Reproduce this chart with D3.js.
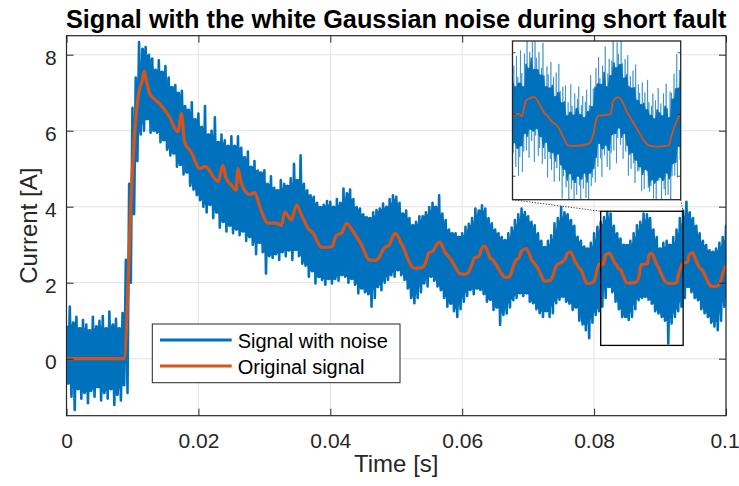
<!DOCTYPE html>
<html><head><meta charset="utf-8">
<script src="https://cdn.jsdelivr.net/npm/d3@7"></script>
<style>
body{margin:0;background:#fff}
svg{display:block}
text{font-family:"Liberation Sans",Arial,Helvetica,sans-serif}
</style>
</head><body>
<svg id="chart" width="739" height="486"></svg>
<script>
// ---------------- DATA ----------------
const titleText = "Signal with the white Gaussian noise during short fault";
const xLabelText = "Time [s]";
const yLabelText = "Current [A]";
const legendLabels = ["Signal with noise", "Original signal"];

const xTicks = [0, 0.02, 0.04, 0.06, 0.08, 0.1];
const xTickLabels = ["0", "0.02", "0.04", "0.06", "0.08", "0.1"];
const yTicks = [0, 2, 4, 6, 8];
const yTickLabels = ["0", "2", "4", "6", "8"];
const xDomain = [0, 0.1];
const yDomain = [-1.5, 8.5];

// noisy signal: upper / lower envelope sampled every 0.5 ms (t = 0 ... 0.1 s)
const noiseStep = 0.0005;
const noiseUpper = [
 0.85,1.37,0.95,1.1,0.8,1.02,0.9,0.75,1.1,0.85,1.0,1.12,0.8,1.24,0.9,1.05,0.8,1.2,
 2.6,4.6,6.6,7.4,8.33,8.15,8.2,8.0,7.9,7.6,7.85,7.55,
 7.7,7.4,7.15,7.2,7.0,7.05,6.65,6.55,6.75,6.3,
 6.45,6.1,6.65,5.9,6.0,6.35,5.7,5.9,5.75,5.6,
 5.85,5.6,5.85,5.55,5.3,5.45,5.05,5.2,4.95,4.9,
 4.96,4.6,4.8,4.5,4.43,4.7,4.6,4.55,4.75,5.13,
 4.7,5.35,4.6,4.43,4.3,4.26,4.1,3.99,4.05,4.15,
 4.13,4.0,4.2,4.1,4.48,4.35,4.45,4.2,3.99,3.95,
 3.8,3.73,3.7,3.85,3.91,3.95,4.08,4.0,4.2,4.3,
 4.26,4.1,3.82,3.9,3.7,3.51,3.6,3.75,3.75,3.85,
 3.99,4.1,4.0,4.3,3.82,3.65,3.4,3.3,3.3,3.21,
 3.3,3.47,3.55,3.7,3.95,3.9,4.04,3.95,3.7,3.56,
 3.4,3.3,3.2,3.12,3.3,3.45,3.65,3.8,3.95,3.86,
 3.75,3.6,3.51,3.3,3.1,2.94,3.1,3.25,3.56,3.7,
 3.99,3.85,3.8,3.65,3.5,3.21,3.1,2.95,2.9,3.05,
 3.3,3.47,3.6,3.73,3.86,3.82,3.5,3.3,3.16,3.0,
 2.99,3.1,3.3,3.51,3.6,3.82,3.8,3.7,3.4,3.2,
 2.9,3.05,3.1,3.0,3.2,3.4,3.7,3.9,4.13,3.85,
 3.7,3.5,3.3,3.1,2.99,2.85,2.81,2.9,3.05,3.2,3.5
];
const noiseLower = [
 -0.65,-1.0,-1.35,-0.8,-1.05,-0.9,-1.17,-0.85,-1.0,-0.75,-1.1,-0.9,-1.05,-0.8,-1.22,-0.95,-1.1,-0.7,
 -0.9,2.0,3.8,5.2,5.9,6.0,6.3,5.95,6.0,5.95,5.7,5.75,
 5.5,5.35,5.4,5.05,5.1,4.85,4.9,4.55,4.45,4.3,
 4.17,4.0,3.85,4.05,3.7,3.85,3.45,3.6,3.35,3.5,
 3.3,3.4,3.25,3.35,3.1,3.2,3.0,2.75,3.05,2.8,
 2.24,2.7,2.65,2.75,2.6,2.8,2.7,2.85,2.6,2.86,
 2.7,2.5,2.45,2.16,2.3,1.98,2.15,2.07,1.95,2.1,
 1.98,2.1,2.05,2.2,2.16,2.0,2.1,1.95,1.72,1.85,
 1.75,1.7,1.37,1.6,1.89,1.8,2.0,2.07,2.2,2.16,
 2.33,2.2,2.07,1.85,1.6,1.46,1.6,1.75,1.98,1.9,
 2.16,2.05,1.9,1.8,1.6,1.37,1.45,1.25,1.1,1.3,
 1.5,1.65,1.81,1.7,1.85,1.81,1.7,1.5,1.55,1.28,
 1.35,0.89,1.15,1.19,1.35,1.54,1.6,1.72,1.65,1.72,
 1.5,1.46,1.3,1.2,1.1,1.25,1.1,1.2,1.46,1.55,
 1.63,1.5,1.45,1.28,1.35,1.0,0.9,0.75,0.54,0.95,
 1.15,1.25,1.37,1.6,1.89,1.75,1.5,1.3,1.1,1.1,
 1.02,1.1,1.3,1.54,1.6,1.63,1.55,1.45,1.25,1.19,
 1.1,1.0,0.4,0.93,1.1,1.25,1.37,1.6,1.89,1.75,
 1.6,1.54,1.3,1.2,1.1,0.95,0.85,0.75,1.0,1.37,1.6
];

// original (noise-free) signal: [time s, current A]
const originalSignal = [
 [0,0],[0.0087,0],[0.00995,4.78],[0.01036,6.0],[0.01086,6.89],[0.01147,7.32],[0.01177,7.57],
 [0.01213,7.3],[0.01263,6.97],[0.0141,6.72],[0.0155,6.4],[0.0169,5.97],[0.01743,6.45],[0.0179,5.7],
 [0.0189,5.44],[0.0202,5.0],[0.021,5.06],[0.023,4.66],[0.0237,5.09],[0.0242,4.75],[0.0251,4.55],
 [0.0257,4.43],[0.026,5.0],[0.0265,4.62],[0.0278,4.32],[0.02855,4.37],[0.0293,4.0],[0.03057,3.57],
 [0.0318,3.57],[0.0326,3.51],[0.0331,3.86],[0.0341,3.65],[0.03487,4.04],[0.03563,3.78],[0.03664,3.43],
 [0.0374,3.3],[0.03867,2.93],[0.0402,2.94],[0.04094,3.25],[0.0417,3.3],[0.04246,3.56],[0.04346,3.34],
 [0.04397,3.21],[0.04473,2.99],
 [0.0459,2.6],[0.0468,2.59],[0.0473,2.64],[0.0478,2.8],[0.0483,2.94],[0.0489,2.98],[0.0493,3.15],
 [0.0498,3.3],[0.0503,3.21],[0.0507,3.05],[0.0511,2.92],[0.0516,2.7],[0.0521,2.5],[0.0528,2.38],
 [0.0535,2.39],[0.0541,2.42],
 [0.0545,2.55],[0.0549,2.78],[0.0556,2.84],[0.0561,3.0],[0.0566,3.07],[0.057,2.96],[0.0574,2.8],
 [0.0577,2.74],[0.0584,2.58],[0.059,2.4],[0.0596,2.24],[0.0603,2.22],[0.0609,2.26],
 [0.0613,2.4],[0.0619,2.66],[0.0625,2.69],[0.0629,2.88],[0.0634,2.96],[0.0639,2.8],[0.0642,2.66],
 [0.0646,2.6],[0.0652,2.46],[0.0658,2.28],[0.0665,2.14],[0.0672,2.16],
 [0.0676,2.35],[0.0681,2.58],[0.0686,2.65],[0.069,2.84],[0.0697,2.9],[0.0702,2.75],[0.0705,2.6],
 [0.0709,2.52],[0.0714,2.4],[0.0719,2.22],[0.0725,2.04],[0.0733,2.06],
 [0.0738,2.2],[0.0743,2.46],[0.0749,2.52],[0.0756,2.62],[0.0759,2.76],[0.0763,2.81],[0.0768,2.7],
 [0.0771,2.55],[0.0774,2.49],[0.0777,2.4],[0.0782,2.28],[0.0785,2.12],[0.0789,1.98],[0.0797,2.0],
 [0.0801,2.08],[0.0804,2.3],[0.0807,2.48],[0.0812,2.51],[0.0814,2.47],[0.0817,2.72],[0.082,2.76],
 [0.08235,2.78],[0.0828,2.64],[0.0831,2.53],[0.08337,2.47],[0.0836,2.4],[0.0841,2.31],[0.0845,2.15],
 [0.0849,2.0],[0.0854,1.99],[0.0864,2.02],[0.0868,2.17],[0.087,2.4],[0.0872,2.48],[0.0881,2.5],
 [0.0883,2.72],[0.0887,2.78],[0.08945,2.5],[0.0898,2.38],[0.091,2.0],[0.0916,1.98],[0.0925,2.0],
 [0.0927,2.15],[0.0934,2.5],[0.0942,2.55],[0.0944,2.72],[0.0949,2.79],[0.0956,2.52],[0.0959,2.42],
 [0.0965,2.3],[0.097,2.12],[0.0975,1.95],[0.098,1.9],[0.0988,1.92],[0.0992,2.05],[0.0996,2.3],[0.1,2.46]
];

// zoomed inset: finer noisy samples every 0.1 ms starting at insetStart
const insetStart = 0.0807;
const insetStep = 0.0001;
const insetXDomain = [0.0807, 0.0934];
const insetYDomain = [1.12, 3.69];
const insetYTicks = [1.5, 2.5, 3.5];
const insetUpper = [
 3.03,3.29,2.95,3.45,3.11,3.01,3.54,3.17,2.95,3.49,3.32,3.89,3.25,3.51,3.42,3.68,
 3.23,3.76,3.42,3.23,3.51,3.14,3.25,3.66,3.13,2.95,3.28,3.15,2.93,3.35,2.98,3.11,
 2.79,3.18,2.86,3.32,2.88,2.69,2.95,2.71,2.97,2.48,2.7,2.54,2.99,2.64,2.49,2.84,
 2.6,2.75,2.95,2.5,2.65,2.8,2.45,2.7,2.9,2.55,2.65,3.14,2.63,2.92,2.95,3.25,
 3.0,3.43,3.09,2.99,3.29,3.19,3.6,2.95,3.17,3.4,3.13,3.37,3.87,3.34,3.26,3.67,
 3.48,3.31,3.72,3.33,3.09,3.4,3.15,3.46,2.95,3.12,2.93,3.21,2.94,3.31,2.73,2.99,
 2.85,2.66,3.02,2.69,2.86,2.58,3.06,2.7,2.49,2.64,2.84,2.43,2.73,2.58,2.93,2.53,
 2.68,2.48,2.84,2.64,3.0,2.6,2.45,2.87,2.85,2.75,3.16,2.92,3.48,2.93,3.22,3.15
];
const insetLower = [
 1.88,2.04,1.65,1.95,1.51,1.81,1.99,1.57,1.9,2.19,1.92,2.14,1.8,2.26,2.07,2.23,
 1.73,2.16,2.27,1.83,1.96,2.14,1.7,1.96,1.78,2.05,1.48,1.9,1.78,1.6,1.88,1.41,
 1.74,1.63,1.86,1.42,1.68,1.14,1.5,1.61,1.32,1.43,1.1,1.54,1.29,1.44,0.99,1.39,
 1.2,1.5,1.35,1.05,1.45,1.3,1.55,1.15,1.4,0.9,1.55,1.34,1.48,1.62,1.4,1.8,
 1.65,2.03,1.79,1.49,1.94,1.84,2.0,1.65,1.92,1.6,1.88,2.17,1.92,2.19,1.71,2.12,
 2.28,2.01,2.12,1.78,2.19,1.9,2.0,1.51,1.85,1.62,1.88,1.71,1.39,1.76,1.58,1.59,
 1.65,1.26,1.52,1.29,1.61,1.58,1.31,1.25,1.34,1.44,1.14,1.38,1.03,1.43,1.43,1.48,
 1.13,1.43,1.29,1.19,1.55,1.2,1.45,1.02,1.5,1.7,1.51,1.72,1.48,1.98,1.77,1.95
];
// highlighted region in main axes
const zoomBoxT = [0.081, 0.0935];
const zoomBoxI = [0.35, 3.88];

// ---------------- DRAWING ----------------
const W = 739, H = 486;
const m = {l: 66.5, r: 726, t: 35.7, b: 415.7};
const axisColor = "#262626";
const blue = "#0072BD", orange = "#D95319";

const x = d3.scaleLinear().domain(xDomain).range([m.l, m.r]);
const y = d3.scaleLinear().domain(yDomain).range([m.b, m.t]);

const svg = d3.select("#chart");
svg.append("rect").attr("width", W).attr("height", H).attr("fill", "#fff");

const defs = svg.append("defs");
defs.append("clipPath").attr("id", "mainClip").append("rect")
  .attr("x", m.l).attr("y", m.t).attr("width", m.r - m.l).attr("height", m.b - m.t);

// grid
const grid = svg.append("g");
grid.selectAll("line.gx").data(xTicks).join("line")
  .attr("x1", d => x(d)).attr("x2", d => x(d)).attr("y1", m.t).attr("y2", m.b)
  .attr("stroke", "#e2e2e2").attr("stroke-width", 1);
grid.selectAll("line.gy").data(yTicks).join("line")
  .attr("x1", m.l).attr("x2", m.r).attr("y1", d => y(d)).attr("y2", d => y(d))
  .attr("stroke", "#e2e2e2").attr("stroke-width", 1);

// helper: region covered by every stroke of a zig-zag (neighbourhood min of highs / max of lows)
function coreOf(hi, lo, t0, step) {
  return hi.map((h, i) => {
    const a = Math.max(0, i - 1), b = Math.min(hi.length - 1, i + 1);
    let ch = Math.min(hi[a], hi[i], hi[b]);
    let cl = Math.max(lo[a], lo[i], lo[b]);
    if (cl > ch) { const mid = (cl + ch) / 2; ch = mid; cl = mid; }
    return {t: t0 + i * step + step / 4, hi: ch, lo: cl};
  });
}
function zigOf(hi, lo, t0, step) {
  const pts = [];
  hi.forEach((h, i) => { pts.push([t0 + i * step, h]); pts.push([t0 + i * step + step / 2, lo[i]]); });
  return pts;
}

const plot = svg.append("g").attr("clip-path", "url(#mainClip)");
const band = d3.area().x(d => x(d.t)).y0(d => y(d.lo)).y1(d => y(d.hi));
plot.append("path").attr("d", band(coreOf(noiseUpper, noiseLower, 0, noiseStep)))
  .attr("fill", blue).attr("stroke", blue).attr("stroke-width", 1.5);
const line = d3.line().x(d => x(d[0])).y(d => y(d[1]));
plot.append("path").attr("d", line(zigOf(noiseUpper, noiseLower, 0, noiseStep)))
  .attr("fill", "none").attr("stroke", blue).attr("stroke-width", 2.6).attr("stroke-linejoin", "round");

const smooth = d3.line().x(d => x(d[0])).y(d => y(d[1])).curve(d3.curveMonotoneX);
plot.append("path").attr("d", smooth(originalSignal))
  .attr("fill", "none").attr("stroke", orange).attr("stroke-width", 3.2)
  .attr("stroke-linejoin", "round");

// axes
const tickLen = 7;
const fontTick = 21;
function styleAxis(g) {
  g.select(".domain").remove();
  g.selectAll(".tick line").attr("stroke", axisColor).attr("stroke-width", 1);
  g.selectAll(".tick text").attr("fill", axisColor).style("font-size", fontTick + "px")
    .style("font-family", '"Liberation Sans", Arial, sans-serif');
}
const xAx = svg.append("g").attr("transform", `translate(0,${m.b})`)
  .call(d3.axisBottom(x).tickValues(xTicks).tickFormat((d, i) => xTickLabels[i])
    .tickSizeInner(-tickLen).tickSizeOuter(0).tickPadding(17.7))
  .call(styleAxis);
xAx.selectAll(".tick text").filter((d, i) => i === xTicks.length - 1).attr("dx", "-1.5");
svg.append("g").attr("transform", `translate(0,${m.t})`)
  .call(d3.axisTop(x).tickValues(xTicks).tickFormat("").tickSizeInner(-tickLen).tickSizeOuter(0))
  .call(styleAxis);
const yAx = svg.append("g").attr("transform", `translate(${m.l},0)`)
  .call(d3.axisLeft(y).tickValues(yTicks).tickFormat((d, i) => yTickLabels[i])
    .tickSizeInner(-tickLen).tickSizeOuter(0).tickPadding(9.8))
  .call(styleAxis);
yAx.selectAll(".tick text").attr("dy", "0.47em");
svg.append("g").attr("transform", `translate(${m.r},0)`)
  .call(d3.axisRight(y).tickValues(yTicks).tickFormat("").tickSizeInner(-tickLen).tickSizeOuter(0))
  .call(styleAxis);

svg.append("rect").attr("x", m.l).attr("y", m.t).attr("width", m.r - m.l).attr("height", m.b - m.t)
  .attr("fill", "none").attr("stroke", axisColor).attr("stroke-width", 1.2);

// title & labels
svg.append("text").attr("x", (m.l + m.r) / 2).attr("y", 28).attr("text-anchor", "middle")
  .style("font-size", "25.3px").style("font-weight", "bold").attr("fill", "#000").text(titleText);
svg.append("text").attr("x", (m.l + m.r) / 2).attr("y", 472).attr("text-anchor", "middle")
  .style("font-size", "24px").attr("fill", axisColor).text(xLabelText);
svg.append("text").attr("transform", `translate(37,${(m.t + m.b) / 2}) rotate(-90)`)
  .attr("text-anchor", "middle").style("font-size", "24px").attr("fill", axisColor).text(yLabelText);

// legend
const lg = svg.append("g");
lg.append("rect").attr("x", 152.3).attr("y", 324).attr("width", 247.7).attr("height", 58.7)
  .attr("fill", "#fff").attr("stroke", axisColor).attr("stroke-width", 1);
[blue, orange].forEach((c, i) => {
  const yy = 340 + i * 26;
  lg.append("line").attr("x1", 160).attr("x2", 231.7).attr("y1", yy).attr("y2", yy)
    .attr("stroke", c).attr("stroke-width", 3);
  lg.append("text").attr("x", 237.7).attr("y", yy + 7.5).style("font-size", "20px")
    .attr("fill", "#000").text(legendLabels[i]);
});

// zoom rectangle in main axes
const bx0 = x(zoomBoxT[0]), bx1 = x(zoomBoxT[1]), by0 = y(zoomBoxI[1]), by1 = y(zoomBoxI[0]);
svg.append("rect").attr("x", bx0).attr("y", by0).attr("width", bx1 - bx0).attr("height", by1 - by0)
  .attr("fill", "none").attr("stroke", "#000").attr("stroke-width", 1.3);

// inset axes
const ib = {l: 512.5, r: 680.7, t: 41, b: 199.7};
const xi = d3.scaleLinear().domain(insetXDomain).range([ib.l, ib.r]);
const yi = d3.scaleLinear().domain(insetYDomain).range([ib.b, ib.t]);

// connectors
[[ib.l, bx0], [ib.r, bx1]].forEach(([a, b]) => {
  svg.append("line").attr("x1", a).attr("y1", ib.b).attr("x2", b).attr("y2", by0)
    .attr("stroke", "#333").attr("stroke-width", 1).attr("stroke-dasharray", "1.2,1.6");
});

defs.append("clipPath").attr("id", "insetClip").append("rect")
  .attr("x", ib.l).attr("y", ib.t).attr("width", ib.r - ib.l).attr("height", ib.b - ib.t);
svg.append("rect").attr("x", ib.l).attr("y", ib.t).attr("width", ib.r - ib.l).attr("height", ib.b - ib.t)
  .attr("fill", "#fff");
const inset = svg.append("g").attr("clip-path", "url(#insetClip)");
const bandI = d3.area().x(d => xi(d.t)).y0(d => yi(d.lo)).y1(d => yi(d.hi));
inset.append("path").attr("d", bandI(coreOf(insetUpper, insetLower, insetStart, insetStep)))
  .attr("fill", blue).attr("stroke", blue).attr("stroke-width", 0.8);
const segs = d3.pairs(zigOf(insetUpper, insetLower, insetStart, insetStep));
inset.selectAll("line.seg").data(segs).join("line")
  .attr("x1", d => xi(d[0][0])).attr("y1", d => yi(d[0][1]))
  .attr("x2", d => xi(d[1][0])).attr("y2", d => yi(d[1][1]))
  .attr("stroke", blue).attr("stroke-width", 0.9).attr("stroke-opacity", 0.6);
const smoothI = d3.line().x(d => xi(d[0])).y(d => yi(d[1])).curve(d3.curveMonotoneX);
inset.append("path").attr("d", smoothI(originalSignal))
  .attr("fill", "none").attr("stroke", orange).attr("stroke-width", 1.8);
// inset ticks
insetYTicks.forEach(v => {
  svg.append("line").attr("x1", ib.l).attr("x2", ib.l + 3).attr("y1", yi(v)).attr("y2", yi(v))
    .attr("stroke", axisColor).attr("stroke-width", 0.8);
  svg.append("line").attr("x1", ib.r - 3).attr("x2", ib.r).attr("y1", yi(v)).attr("y2", yi(v))
    .attr("stroke", axisColor).attr("stroke-width", 0.8);
});
svg.append("rect").attr("x", ib.l).attr("y", ib.t).attr("width", ib.r - ib.l).attr("height", ib.b - ib.t)
  .attr("fill", "none").attr("stroke", axisColor).attr("stroke-width", 1.3);
</script>
</body></html>
